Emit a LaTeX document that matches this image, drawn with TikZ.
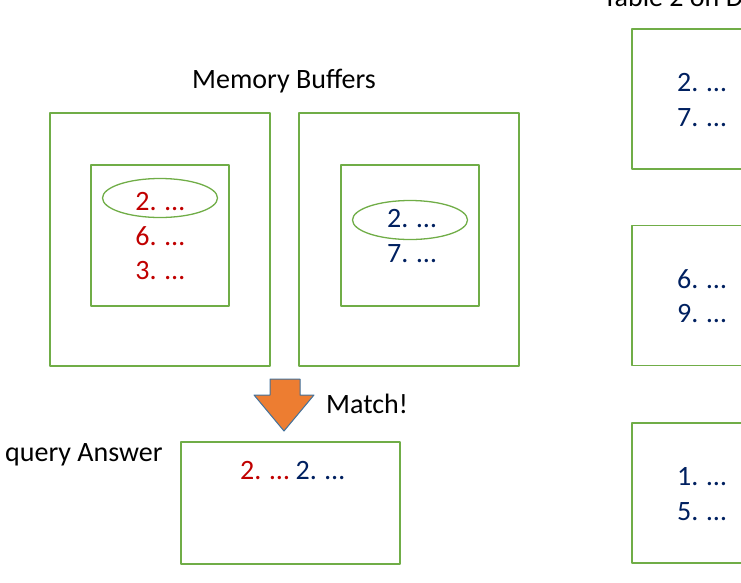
\documentclass[tikz,border=0pt]{standalone}
\usepackage{fontspec}
\setmainfont{Carlito}
\usetikzlibrary{shapes.geometric}
\definecolor{boxgreen}{HTML}{70AD47}
\definecolor{hitred}{HTML}{C00000}
\definecolor{hitblue}{HTML}{002060}
\definecolor{arrorange}{HTML}{ED7D31}
\definecolor{arredge}{HTML}{41719C}
\tikzset{
  box/.style={draw=boxgreen, line width=1.3pt, rectangle, inner sep=0pt},
  oval/.style={draw=boxgreen, line width=1.3pt, ellipse, inner sep=0pt, minimum width=115pt, minimum height=39pt},
  redtxt/.style={text=hitred, inner sep=0pt, anchor=base},
  bluetxt/.style={text=hitblue, inner sep=0pt, anchor=base west},
  label/.style={inner sep=0pt, anchor=base west}
}
\begin{document}
\begin{tikzpicture}[x=1pt, y=-1pt, font=\fontsize{28}{34}\selectfont, line join=round]
\def\W{741} \def\H{582}
\useasboundingbox (0,0) rectangle (\W,\H);
\clip (0,0) rectangle (\W,\H);
% memory buffers
\node[label, anchor=base] (mtitle) at (284,88) {Memory Buffers};
\node[box, minimum width=220pt, minimum height=253pt] (lout) at (160,239.5) {};
\node[box, minimum width=138pt, minimum height=141pt] (lin) at (160,235.5) {};
\node[box, minimum width=220pt, minimum height=253pt] (rout) at (409,239.5) {};
\node[box, minimum width=138pt, minimum height=141pt] (rin) at (410,235.5) {};
\node[oval] (lhit) at (160,198) {};
\node[oval] (rhit) at (410,220) {};
\node[redtxt] (l2) at (160,210) {2. …};
\node[redtxt] (l6) at (160,245) {6. …};
\node[redtxt] (l3) at (160,279) {3. …};
\node[bluetxt] (r2) at (387,227) {2. …};
\node[bluetxt] (r7) at (387,262) {7. …};
% match arrow
\draw[fill=arrorange, draw=arredge, line width=1pt] (270,379)--(300,379)--(300,395)--(314,395)--(284,431)--(254,395)--(270,395)--cycle;
\node[label] (match) at (326,413) {Match!};
% answer
\node[label] (qans) at (5,461) {query Answer};
\node[box, minimum width=219pt, minimum height=122pt] (ans) at (290.5,503) {};
\node[label] (pair) at (240,479) {\textcolor{hitred}{2. …} \textcolor{hitblue}{2. …}};
% table 2 on disk
\node[label] (ttitle) at (603,6) {Table 2 on Disk};
\foreach \y/\a/\b [count=\i] in {99/2/7, 295.5/6/9, 493/1/5}{
  \node[box, minimum width=150pt, minimum height=140pt] (blk\i) at (707,\y) {};
  \node[bluetxt] (blk\i a) at (677,\y-7.5) {\a. …};
  \node[bluetxt] (blk\i b) at (677,\y+27) {\b. …};
}
\end{tikzpicture}
\end{document}
